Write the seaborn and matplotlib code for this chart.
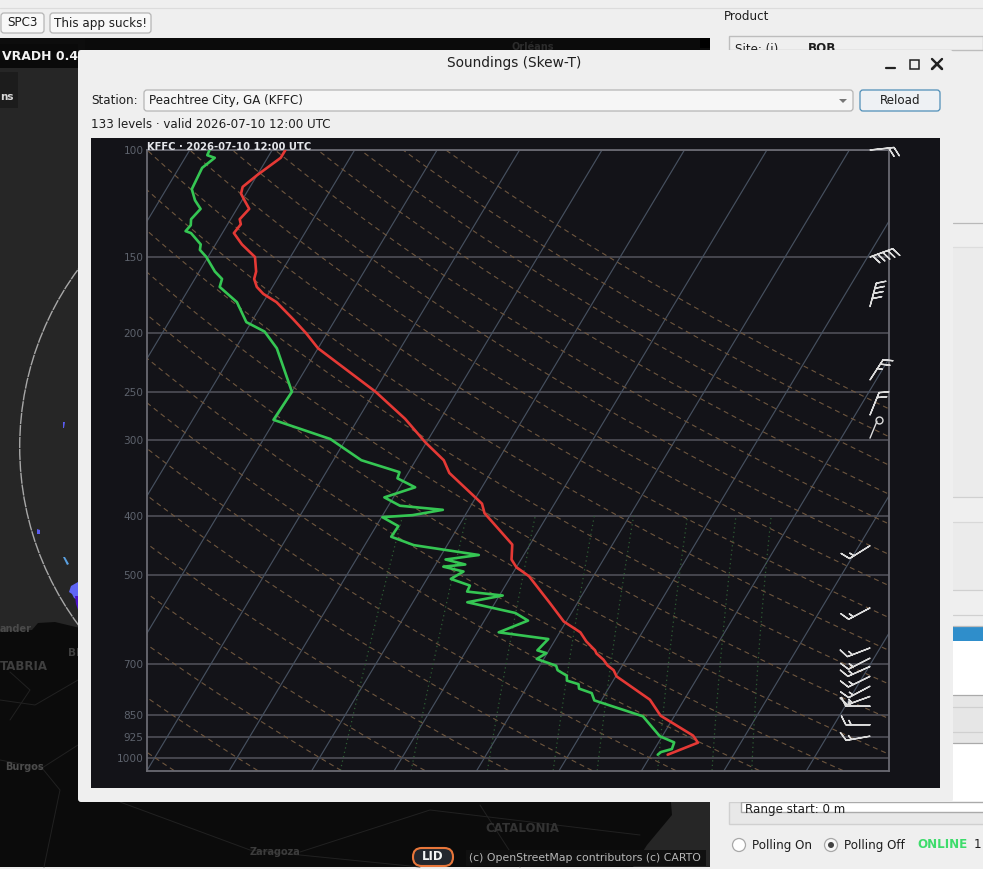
"""Skew-T sounding window of the radar app, seaborn lines on a redrawn dialog."""
import matplotlib
matplotlib.use("Agg")
import matplotlib.pyplot as plt
import numpy as np
import pandas as pd
import seaborn as sns
from matplotlib.patches import Circle, FancyBboxPatch, Polygon, Rectangle
from matplotlib.transforms import Affine2D

# sounding: pressure (hPa), temperature / dewpoint (C)
temp_p = [100, 103, 110, 115, 118, 121, 125, 130, 132.5, 137, 143, 150, 158.5, 163, 168, 172.5,
          178, 190, 200, 212, 250, 277, 303, 324, 340, 382, 396, 446, 472, 486, 503, 536, 557,
          597, 622, 644, 666, 674, 690, 705, 718, 735, 803, 853, 920, 945, 989]
temp_c = [-68.4, -68.4, -70.0, -70.9, -70.6, -69.7, -68.5, -68.9, -68.4, -68.6, -66.8, -64.3,
          -63.1, -62.8, -61.9, -60.6, -58.4, -55.1, -52.6, -50.0, -39.85, -34.3, -30.1, -26.6,
          -25.0, -18.8, -17.8, -12.15, -11.15, -10.0, -7.8, -5.0, -3.3, -0.3, 2.5, 3.9, 5.6, 6.0,
          7.3, 8.2, 9.3, 10.1, 15.85, 18.3, 23.7, 24.8, 22.0]
dewp_p = [100, 102, 103, 107, 116, 121, 125, 130, 133, 136, 137, 143, 146, 150, 158.5, 163, 168,
          178, 192, 199, 212, 250, 278, 299, 324, 339, 347, 359, 373, 385, 391, 399, 402, 416,
          433, 447, 464, 472, 481, 485, 494, 508, 521, 533, 541, 555, 578, 595, 622, 638, 666,
          673, 688, 706, 718, 733, 747, 757, 770, 783, 805, 855, 922, 944, 968, 979, 989]
dewp_c = [-77.6, -77.5, -76.4, -77.2, -76.9, -75.7, -74.4, -74.8, -74.4, -74.6, -73.8, -71.8,
          -71.5, -70.2, -68.1, -66.7, -66.4, -63.2, -60.6, -57.7, -55.0, -50.0, -50.2, -41.9,
          -36.6, -31.1, -30.9, -28.1, -31.1, -28.6, -23.1, -26.4, -29.9, -27.3, -27.4, -24.05,
          -15.45, -19.15, -16.4, -18.9, -16.1, -17.1, -14.3, -14.2, -9.6, -13.4, -6.8, -4.7, -7.4,
          -0.9, -1.4, -0.1, -0.85, 2.0, 2.5, 4.0, 4.4, 6.05, 6.45, 8.3, 9.15, 16.2, 19.7, 21.9,
          22.1, 21.0, 20.8]

# wind barbs: pressure, speed (kt), direction the staff points to (deg)
barb_p = [100, 150, 181, 239, 273, 448, 567, 660, 686, 708, 735, 763, 793, 823, 883, 922]
barb_kt = [20, 50, 40, 25, 20, 15, 15, 15, 15, 15, 15, 15, 15, 15, 15, 15]
barb_dir = [84, 70, 15, 33, 22, 238, 242, 249, 243, 246, 244, 242, 250, 270, 270, 260]
calm_p = 298

pressure_ticks = [100, 150, 200, 250, 300, 400, 500, 700, 850, 925, 1000]
isotherms = list(range(-80, 50, 10))
adiabats_c = list(range(-60, 170, 10))
mixing_gkg = [1, 2, 4, 7, 10, 16, 24, 32]

SKEW = 44.25
P_BOTTOM = 1050
BG = "#131318"
GUI = "#efefef"


def skewed(t, p):
    return np.asarray(t, dtype=float) + SKEW * np.log10(P_BOTTOM / np.asarray(p, dtype=float))


sns.set_theme(style="dark", rc={"axes.facecolor": BG})
plt.rcParams["font.family"] = ["DejaVu Sans"]

fig = plt.figure(figsize=(9.83, 8.69), dpi=100, facecolor=GUI)

# ---- the app around the chart, in pixel coordinates
ui = fig.add_axes([0, 0, 1, 1], zorder=0)
ui.set_xlim(0, 983)
ui.set_ylim(869, 0)
ui.axis("off")


def box(x0, y0, x1, y1, color, edge="none", z=1, lw=1):
    ui.add_patch(Rectangle((x0, y0), x1 - x0, y1 - y0, fc=color, ec=edge, lw=lw, zorder=z))


def rbox(x0, y0, x1, y1, color, edge, z=1, r=3, lw=0.9):
    ui.add_patch(FancyBboxPatch((x0 + r, y0 + r), x1 - x0 - 2 * r, y1 - y0 - 2 * r,
                                boxstyle=f"round,pad={r}", fc=color, ec=edge, lw=lw, zorder=z))


def label(x, y, s, z=6, size=8.6, color="#1e1e1e", **kw):
    kw.setdefault("va", "center")
    ui.text(x, y, s, fontsize=size, color=color, zorder=z, **kw)


# top bar and buttons
ui.plot([0, 983], [7.5, 7.5], color="#dcdcdc", lw=0.8, zorder=1)
rbox(1, 13, 44, 33, "#f8f8f8", "#b5b5b5", z=2)
label(22.5, 23, "SPC3", ha="center")
rbox(50, 13, 151, 33, "#f8f8f8", "#b5b5b5", z=2)
label(100.5, 23, "This app sucks!", ha="center")

# map
box(0, 38, 710, 867, "#262626")
land = Polygon([(0, 632), (32, 630), (38, 623), (55, 622), (80, 628), (130, 640), (710, 640), (710, 38),
                (85, 38), (85, 640), (670, 640), (670, 790), (672, 815), (647, 845), (633, 867), (0, 867)],
               fc="#0b0b0b", ec="none", zorder=1)
box(78, 38, 710, 50, "#0d0d0d", z=1)
box(0, 38, 78, 44, "#0d0d0d", z=1)
ui.add_patch(land)
box(700, 38, 710, 48, "#000000", z=1.5)
for road in ([(0, 760), (42, 768), (60, 790), (44, 867)], [(42, 768), (78, 745)], [(0, 700), (35, 705), (78, 680)],
             [(120, 802), (250, 850), (420, 867)], [(300, 852), (430, 810), (640, 835)],
             [(480, 805), (520, 867)], [(10, 672), (30, 690), (10, 720)]):
    xs, ys = zip(*road)
    ui.plot(xs, ys, color="#212121", lw=0.7, zorder=1.6)
ui.add_patch(Circle((319, 447), 299.3, fc="none", ec="#a8a8a8", lw=1.0, ls=(0, (8, 0.6)), zorder=1.7))
for blob, c in (([(63, 422), (65, 422), (64, 428), (63, 428)], "#5a5cf0"),
                ([(37, 529), (40, 530), (40, 534), (37, 534)], "#5a5cf0"),
                ([(63, 557), (65, 557), (69, 564), (67, 565)], "#5aa0e0"),
                ([(71, 586), (78, 582), (78, 600), (74, 598), (72, 594), (69, 592)], "#5f66f5"),
                ([(75, 596), (78, 596), (78, 610), (76, 604)], "#4a10c8")):
    ui.add_patch(Polygon(blob, fc=c, ec="none", zorder=1.8))
box(0, 44, 78, 68, "#0a0a0a", z=2)
label(2, 56, "VRADH 0.4", weight="bold", color="#f2f2f2", z=2.1, size=9)
box(0, 72, 18, 108, "#1c1c1c", z=2)
label(0, 97, "ns", weight="bold", color="#d8d8d8", z=2.1, size=7.5)
label(0, 629, "ander", color="#4a4a4a", size=7, weight="bold", z=1.9)
label(0, 666, "TABRIA", color="#3f3f3f", size=8.5, weight="bold", z=1.9)
label(68, 653, "BI", color="#3f3f3f", size=7.5, weight="bold", z=1.9)
label(5, 767, "Burgos", color="#4c4c4c", size=7, weight="bold", z=1.9)
label(250, 852, "Zaragoza", color="#3c3c3c", size=7, weight="bold", z=1.9)
label(485, 828, "CATALONIA", color="#333333", size=8.5, weight="bold", z=1.9)
label(512, 47, "Orléans", color="#2c2c2c", size=7, weight="bold", z=1.9)
rbox(413, 848, 453, 866, "#24272e", "#e8763a", z=3, r=8.8, lw=1.5)
label(433, 857, "LID", ha="center", weight="bold", color="#f5f5f5", z=4, size=8.5)
box(466, 850, 706, 866, "#101010", z=3)
label(469, 858, "(c) OpenStreetMap contributors (c) CARTO", color="#b8b8b8", z=4, size=7.8)

# right-hand panel, mostly hidden behind the dialog
box(710, 0, 983, 869, GUI, z=0.5)
label(724, 17, "Product")
box(729, 36, 983, 50, GUI, edge="#bdbdbd", z=0.7)
label(735, 49, "Site: (i)", z=0.8)
label(808, 49, "BOB", weight="bold", z=0.8)
box(953, 247, 983, 497, "#ebebeb", z=0.8)
box(953, 522, 983, 590, "#ebebeb", z=0.8)
box(953, 626, 983, 641, "#2f8ecb", z=0.8)
box(953, 641, 983, 695, "#ffffff", z=0.8)
box(953, 695, 983, 743, "#e6e6e6", z=0.8)
box(741, 743, 983, 812, "#ffffff", z=0.8)
for y, c in ((222.5, "#b9b9b9"), (247, "#dddddd"), (497, "#d0d0d0"), (522, "#d8d8d8"), (590, "#d0d0d0"),
             (615, "#d0d0d0"), (625.5, "#bcbcbc"), (695, "#aaaaaa"), (707, "#d0d0d0"), (731.5, "#d0d0d0"),
             (743, "#aaaaaa")):
    ui.plot([953, 983], [y, y], color=c, lw=0.9, zorder=0.9)
box(729, 802, 984, 824, "#e8e8e8", edge="#d0d0d0", z=0.7)
box(741, 802, 984, 812, "#ffffff", edge="#aaaaaa", z=0.8)
label(745, 810, "Range start: 0 m", z=0.85)
box(0, 867, 983, 869, GUI, z=0.95)

ui.add_patch(Circle((739, 845), 6.5, fc="#ffffff", ec="#a8a8a8", lw=0.9, zorder=2))
label(752, 845, "Polling On")
ui.add_patch(Circle((831, 845), 6.5, fc="#f8f8f8", ec="#a8a8a8", lw=0.9, zorder=2))
ui.add_patch(Circle((831, 845), 3, fc="#444444", ec="none", zorder=3))
label(844, 845, "Polling Off")
label(917, 845, "ONLINE", weight="bold", color="#3ddc6b")
label(974, 845, "1")

# dialog
rbox(78, 50, 953, 802, GUI, "none", z=5, r=3)
label(514, 63, "Soundings (Skew-T)", ha="center", size=9.9)
ui.plot([886, 895], [67.5, 67.5], color="#222222", lw=1.6, zorder=6)
ui.add_patch(Rectangle((909.5, 60), 9.5, 9, fc="none", ec="#222222", lw=1.1, zorder=6))
ui.plot([932, 942, 937, 932, 942], [59, 69, 64, 69, 59], color="#222222", lw=1.7, zorder=6)
label(91, 100.5, "Station:")
rbox(144, 90, 853, 111, "#f6f6f6", "#b5b5b5", z=6)
label(149, 100.5, "Peachtree City, GA (KFFC)", z=7)
ui.add_patch(Polygon([(839, 99), (847, 99), (843, 103)], fc="#777777", ec="none", zorder=7))
rbox(860, 90, 940, 111, "#eef1f4", "#4f8fb8", z=6)
label(900, 100.5, "Reload", ha="center", z=7)
label(91, 124.5, "133 levels · valid 2026-07-10 12:00 UTC")
box(91, 138, 940, 788, BG, z=6)

# ---- the skew-T itself
ax = fig.add_axes([147 / 983, 1 - 770.5 / 869, 742 / 983, 620.5 / 869], zorder=2)
ax.set_facecolor(BG)
ax.set_yscale("log")
ax.set_ylim(P_BOTTOM, 100)
ax.set_xlim(-40, 50)

guide_p = np.geomspace(P_BOTTOM, 100, 80)
for t in isotherms:
    ax.plot(skewed(np.full(2, t), guide_p[[0, -1]]), guide_p[[0, -1]], color="#46505f", lw=0.85, zorder=1)
for theta in adiabats_c:
    t = (theta + 273.15) * (guide_p / 1000) ** 0.286 - 273.15
    ax.plot(skewed(t, guide_p), guide_p, color="#6e563e", lw=0.8, ls=(0, (4.5, 3.5)), zorder=1)
moist_p = np.geomspace(P_BOTTOM, 400, 30)
for w in mixing_gkg:
    g = np.log((w / 1000) * moist_p / (0.622 + w / 1000) / 6.112)
    t = 243.5 * g / (17.67 - g)
    ax.plot(skewed(t, moist_p), moist_p, color="#2e5c34", lw=0.9, ls=(0, (1, 2.6)), zorder=1)

temp = pd.DataFrame({"p": temp_p, "x": skewed(temp_c, temp_p)})
dewp = pd.DataFrame({"p": dewp_p, "x": skewed(dewp_c, dewp_p)})
sns.lineplot(data=dewp, x="x", y="p", sort=False, estimator=None, color="#35c653", lw=1.9, ax=ax, zorder=3)
sns.lineplot(data=temp, x="x", y="p", sort=False, estimator=None, color="#e53935", lw=1.9, ax=ax, zorder=3)

ax.set_xlabel("")
ax.set_ylabel("")
ax.set_xticks([])
ax.set_yticks(pressure_ticks)
ax.set_yticklabels([str(p) for p in pressure_ticks])
ax.yaxis.set_minor_locator(matplotlib.ticker.NullLocator())
ax.tick_params(axis="y", length=0, pad=2.5, labelsize=7.6, labelcolor="#5d626c")
ax.grid(axis="y", color="#54545c", lw=1.1, zorder=2)
ax.grid(axis="x", visible=False)
ax.set_axisbelow(True)
for side in ax.spines.values():
    side.set_color("#6a6a72")
    side.set_linewidth(1.3)

# barbs sit in a fixed column at the right edge
wind = np.radians(barb_dir)
barb_x = np.full(len(barb_p), (870 - 147) / 742)
ax.barbs(barb_x, barb_p, -np.array(barb_kt) * np.sin(wind), -np.array(barb_kt) * np.cos(wind),
         transform=ax.get_yaxis_transform(), length=5.9, pivot="tip", color="#dcdcdc", linewidth=1.0,
         sizes=dict(spacing=0.22, height=0.36, width=0.36),
         barb_increments=dict(half=5, full=10, flag=100), clip_on=False, zorder=4)
calm_x = (870 - 147) / 742
ax.annotate("", xy=(calm_x, calm_p), xycoords=ax.get_yaxis_transform(), xytext=(7, 17), textcoords="offset pixels",
            arrowprops=dict(arrowstyle="-", color="#dcdcdc", lw=1.0, shrinkA=0, shrinkB=0), zorder=4)
ax.plot([calm_x], [calm_p], marker="o", ms=5, mfc="none", mec="#dcdcdc", mew=1.0, clip_on=False, zorder=4,
        transform=ax.get_yaxis_transform() + Affine2D().translate(9, 18))

ax.annotate("KFFC · 2026-07-10 12:00 UTC", xy=(0, 1), xycoords="axes fraction", xytext=(0, 2.5), textcoords="offset pixels",
            va="center", ha="left", fontsize=7.2, weight="bold", color="#e4e6ea", zorder=6, annotation_clip=False)

fig.savefig("out.png", dpi=100, facecolor=GUI)
